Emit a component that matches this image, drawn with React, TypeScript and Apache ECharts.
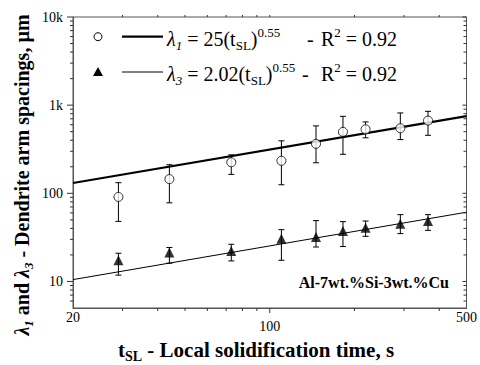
import React, { useEffect, useRef } from 'react';
import * as echarts from 'echarts';

// ---- data ----
const tSL = [29, 44, 73, 110, 146, 182, 219, 291, 365];
const lambda1 = [91, 145, 225, 234, 364, 498, 532, 547, 668];
const lambda1Low = [48, 78, 164, 125, 222, 277, 426, 407, 455];
const lambda1High = [132, 211, 273, 394, 582, 747, 645, 816, 851];
const lambda3 = [17.4, 21.3, 22.2, 30.6, 32, 37.3, 40.8, 45.3, 48.5];
const lambda3Low = [11.8, 16.1, 17.1, 17.4, 24.6, 24.9, 32.5, 34.9, 38];
const lambda3High = [20.9, 24.3, 26.4, 38.7, 49, 47.7, 48.5, 57.3, 57.3];
const fit1T = [20, 500];
const fit1V = [131, 750];
const fit3T = [20, 500];
const fit3V = [10.5, 61];

const xTickLabels: Record<number, string> = { 20: '20', 100: '100', 500: '500' };
const yTickLabels: Record<number, string> = { 10: '10', 100: '100', 1000: '1k', 10000: '10k' };
const xMajorTicks = [100];
const xMinorTicks = [30, 40, 50, 60, 70, 80, 90, 200, 300, 400];
const yMajorTicks = [10, 100, 1000, 10000];
const yMinorTicks = [6, 7, 8, 9, 20, 30, 40, 50, 60, 70, 80, 90, 200, 300, 400, 500, 600, 700, 800, 900,
  2000, 3000, 4000, 5000, 6000, 7000, 8000, 9000];

const X_MIN = 20, X_MAX = 500, Y_MIN = 5, Y_MAX = 10000;
const FONT = 'Liberation Serif';
const AXIS_COLOR = '#555';

function tickSeries(data: number[][], side: string) {
  return {
    type: 'custom',
    silent: true,
    clip: false,
    z: 4,
    data,
    renderItem: (_p: any, api: any) => {
      const p = api.coord([api.value(0), api.value(1)]);
      const major = api.value(2) === 1;
      let x1 = p[0], y1 = p[1], x2 = p[0], y2 = p[1];
      if (side === 'left') { x1 = p[0] - (major ? 6 : 3); }
      else if (side === 'right') { x1 = p[0] - (major ? 4 : 3); }
      else if (side === 'bottom') { y2 = p[1] + (major ? 5 : 3); }
      else { y2 = p[1] - 2; }
      return {
        type: 'line',
        shape: { x1, y1, x2, y2 },
        style: { stroke: '#333', lineWidth: 1 },
      };
    },
  };
}

function errSeries(t: number[], lo: number[], hi: number[]) {
  return {
    type: 'custom',
    silent: true,
    clip: false,
    z: 2,
    data: t.map((x, i) => [x, lo[i], hi[i]]),
    renderItem: (_p: any, api: any) => {
      const x = api.value(0);
      const b = api.coord([x, api.value(1)]);
      const top = api.coord([x, api.value(2)]);
      const cap = 3;
      const st = { stroke: '#000', lineWidth: 1 };
      return {
        type: 'group',
        children: [
          { type: 'line', shape: { x1: top[0], y1: top[1], x2: b[0], y2: b[1] }, style: st },
          { type: 'line', shape: { x1: top[0] - cap, y1: top[1], x2: top[0] + cap, y2: top[1] }, style: st },
          { type: 'line', shape: { x1: b[0] - cap, y1: b[1], x2: b[0] + cap, y2: b[1] }, style: st },
        ],
      };
    },
  };
}

const legendRich = {
  n: { fontFamily: FONT, fontSize: 20, color: '#000', lineHeight: 26 },
  li: { fontFamily: FONT, fontSize: 20, fontStyle: 'italic', color: '#000', lineHeight: 26 },
  lis: { fontFamily: FONT, fontSize: 13, fontStyle: 'italic', color: '#000', verticalAlign: 'bottom', lineHeight: 13 },
  sub: { fontFamily: FONT, fontSize: 13, color: '#000', verticalAlign: 'bottom', lineHeight: 13 },
  sup: { fontFamily: FONT, fontSize: 13, color: '#000', verticalAlign: 'top', lineHeight: 10 },
};

export default function App() {
  const ref = useRef<HTMLDivElement>(null);
  useEffect(() => {
    if (!ref.current) return;
    const chart = echarts.init(ref.current, null, { renderer: 'svg' });
    const option: any = {
      animation: false,
      backgroundColor: '#fff',
      textStyle: { fontFamily: FONT },
      grid: {
        left: 73, right: 12, top: 17, bottom: 57,
        show: true, borderColor: AXIS_COLOR, borderWidth: 1, backgroundColor: 'transparent',
      },
      xAxis: {
        type: 'log', logBase: 10, min: X_MIN, max: X_MAX,
        axisLine: { show: true, lineStyle: { color: AXIS_COLOR, width: 1 } },
        axisTick: { show: false },
        splitLine: { show: false },
        axisLabel: {
          margin: 2,
          color: '#000',
          fontFamily: FONT,
          fontSize: 14,
          formatter: (v: number) => {
            const r = Math.round(v);
            const s = xTickLabels[r];
            if (!s) return '';
            return r === 100 ? '{lo|' + s + '}' : '{hi|' + s + '}';
          },
          rich: {
            hi: { fontFamily: FONT, fontSize: 14, color: '#000' },
            lo: { fontFamily: FONT, fontSize: 14, color: '#000', padding: [9, 0, 0, 0] },
          },
        },
      },
      yAxis: {
        type: 'log', logBase: 10, min: Y_MIN, max: Y_MAX,
        axisLine: { show: true, lineStyle: { color: AXIS_COLOR, width: 1 } },
        axisTick: { show: false },
        splitLine: { show: false },
        axisLabel: {
          margin: 10,
          color: '#000',
          fontFamily: FONT,
          fontSize: 14,
          formatter: (v: number) => yTickLabels[Math.round(v)] || '',
        },
      },
      series: [
        tickSeries(yMajorTicks.map((v) => [X_MIN, v, 1]).concat(yMinorTicks.map((v) => [X_MIN, v, 0])), 'left'),
        tickSeries(yMajorTicks.map((v) => [X_MAX, v, 1]).concat(yMinorTicks.map((v) => [X_MAX, v, 0])), 'right'),
        tickSeries(xMajorTicks.map((v) => [v, Y_MIN, 1]).concat(xMinorTicks.map((v) => [v, Y_MIN, 0])), 'bottom'),
        tickSeries(xMajorTicks.map((v) => [v, Y_MAX, 1]).concat(xMinorTicks.map((v) => [v, Y_MAX, 0])), 'top'),
        {
          type: 'line', silent: true, z: 1, symbol: 'none',
          data: fit1T.map((t, i) => [t, fit1V[i]]),
          lineStyle: { color: '#000', width: 2.2 },
        },
        {
          type: 'line', silent: true, z: 1, symbol: 'none',
          data: fit3T.map((t, i) => [t, fit3V[i]]),
          lineStyle: { color: '#000', width: 1 },
        },
        errSeries(tSL, lambda1Low, lambda1High),
        errSeries(tSL, lambda3Low, lambda3High),
        {
          type: 'scatter', silent: true, z: 3, symbol: 'circle', symbolSize: 9,
          data: tSL.map((t, i) => [t, lambda1[i]]),
          itemStyle: { color: '#fff', borderColor: '#000', borderWidth: 1 },
        },
        {
          type: 'scatter', silent: true, z: 3, symbol: 'triangle', symbolSize: 10,
          data: tSL.map((t, i) => [t, lambda3[i]]),
          itemStyle: { color: '#000' },
        },
      ],
      graphic: [
        // legend
        { type: 'circle', shape: { cx: 98, cy: 36.7, r: 4 }, style: { fill: '#fff', stroke: '#000', lineWidth: 1 } },
        { type: 'line', shape: { x1: 122, y1: 36.7, x2: 163, y2: 36.7 }, style: { stroke: '#000', lineWidth: 2.2 } },
        { type: 'polygon', shape: { points: [[98, 67], [103, 76], [93, 76]] }, style: { fill: '#000' } },
        { type: 'line', shape: { x1: 122, y1: 72, x2: 163, y2: 72 }, style: { stroke: '#000', lineWidth: 1 } },
        {
          type: 'text', x: 167, y: 39,
          style: {
            text: '{li|λ}{lis|1}{n| = 25(t}{sub|SL}{n|)}{sup|0.55}',
            rich: legendRich, verticalAlign: 'middle', align: 'left',
          },
        },
        {
          type: 'text', x: 307, y: 39,
          style: { text: '-', fontFamily: FONT, fontSize: 20, fill: '#000', verticalAlign: 'middle' },
        },
        {
          type: 'text', x: 321, y: 39,
          style: { text: '{n|R}{sup|2}{n| = 0.92}', rich: legendRich, verticalAlign: 'middle', align: 'left' },
        },
        {
          type: 'text', x: 167, y: 74,
          style: {
            text: '{li|λ}{lis|3}{n| = 2.02(t}{sub|SL}{n|)}{sup|0.55}',
            rich: legendRich, verticalAlign: 'middle', align: 'left',
          },
        },
        {
          type: 'text', x: 302, y: 74,
          style: { text: '-', fontFamily: FONT, fontSize: 20, fill: '#000', verticalAlign: 'middle' },
        },
        {
          type: 'text', x: 321, y: 74,
          style: { text: '{n|R}{sup|2}{n| = 0.92}', rich: legendRich, verticalAlign: 'middle', align: 'left' },
        },
        // alloy annotation
        {
          type: 'text', x: 449, y: 282,
          style: {
            text: 'Al-7wt.%Si-3wt.%Cu', fontFamily: FONT, fontSize: 16, fontWeight: 'bold', fill: '#000',
            align: 'right', verticalAlign: 'middle',
          },
        },
        // x axis title
        {
          type: 'text', x: 256, y: 350,
          style: {
            text: '{b|t}{s|SL}{b| - Local solidification time, s}',
            align: 'center', verticalAlign: 'middle',
            rich: {
              b: { fontFamily: FONT, fontSize: 21, fontWeight: 'bold', color: '#000', lineHeight: 26 },
              s: { fontFamily: FONT, fontSize: 14, fontWeight: 'bold', color: '#000', verticalAlign: 'bottom', lineHeight: 12 },
            },
          },
        },
        // y axis title
        {
          type: 'text', x: 22, y: 175, rotation: Math.PI / 2,
          style: {
            text: '{li|λ}{ls|1}{b| and }{li|λ}{ls|3}{b| - Dendrite arm spacings, µm}',
            align: 'center', verticalAlign: 'middle',
            rich: {
              b: { fontFamily: FONT, fontSize: 20, fontWeight: 'bold', color: '#000', lineHeight: 26 },
              li: { fontFamily: FONT, fontSize: 20, fontWeight: 'bold', fontStyle: 'italic', color: '#000', lineHeight: 26 },
              ls: { fontFamily: FONT, fontSize: 13, fontWeight: 'bold', fontStyle: 'italic', color: '#000', verticalAlign: 'bottom', lineHeight: 12 },
            },
          },
        },
      ],
    };
    chart.setOption(option);
    return () => chart.dispose();
  }, []);
  return <div ref={ref} style={{ position: 'fixed', left: 0, top: 0, width: 480, height: 365 }} />;
}
